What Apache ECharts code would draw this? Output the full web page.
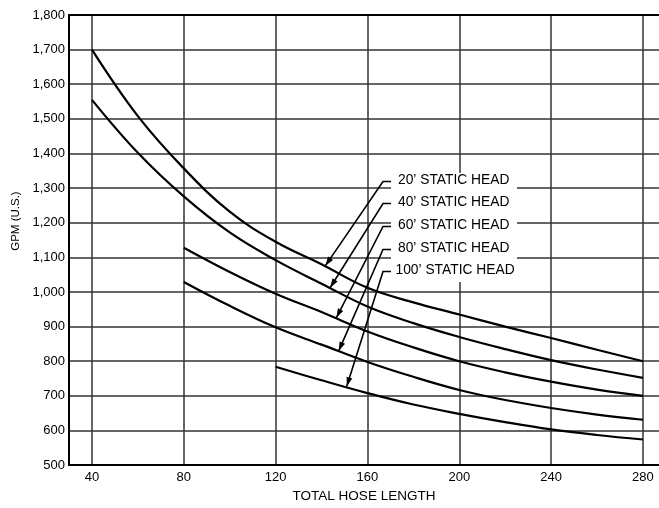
<!DOCTYPE html>
<html>
<head>
<meta charset="utf-8">
<script src="https://cdn.jsdelivr.net/npm/echarts@6/dist/echarts.min.js"></script>
<style>
  html, body { margin: 0; padding: 0; background: #fff; }
  #main { width: 659px; height: 508px; }
</style>
</head>
<body>
<div id="main"></div>
<script>
// hose length (ft) sampled every 20
const hoseLength = [40, 60, 80, 100, 120, 140, 160, 180, 200, 220, 240, 260, 280];
// GPM, null = curve not drawn there
const gpm20  = [1700, 1508, 1357, 1232, 1145, 1080, 1012, 970, 935, 900, 867, 833, 800];
const gpm40  = [1555, 1402, 1276, 1172, 1092, 1024, 958, 910, 870, 835, 803, 776, 752];
const gpm60  = [null, null, 1128, 1058, 995, 942, 886, 840, 800, 768, 741, 718, 700];
const gpm80  = [null, null, 1029, 960, 898, 848, 798, 755, 717, 688, 665, 646, 631];
const gpm100 = [null, null, null, null, 784, 745, 708, 675, 648, 624, 603, 587, 574];
const headNames = ['20’ STATIC HEAD', '40’ STATIC HEAD', '60’ STATIC HEAD', '80’ STATIC HEAD', '100’ STATIC HEAD'];
const xTicks = [40, 80, 120, 160, 200, 240, 280];
// where each arrow lands on its curve (data units)
const arrowTipX = [141.7, 143.8, 146.5, 147.5, 151];
const arrowTipY = [1076, 1013, 926, 830, 728];

const allGpm = [gpm20, gpm40, gpm60, gpm80, gpm100];
const FONT = '"Liberation Sans", Arial, Helvetica, sans-serif';

const chart = echarts.init(document.getElementById('main'));

const series = allGpm.map(function (vals, i) {
  const pts = [];
  vals.forEach(function (v, j) { if (v != null) pts.push([hoseLength[j], v]); });
  return {
    name: headNames[i],
    type: 'line',
    data: pts,
    smooth: 0.4,
    showSymbol: false,
    lineStyle: { color: '#000', width: 2.2 },
    z: 3
  };
});

chart.setOption({
  animation: false,
  grid: { left: 69, right: 0, top: 15, bottom: 40 },
  xAxis: [{
    type: 'value', min: 30, max: 287, position: 'bottom',
    name: 'TOTAL HOSE LENGTH', nameLocation: 'middle', nameGap: 21,
    nameTextStyle: { color: '#000', fontSize: 13.5, fontFamily: FONT },
    axisLine: { show: true, lineStyle: { color: '#000', width: 2.2 } },
    axisTick: { show: false, customValues: xTicks },
    axisLabel: { customValues: xTicks, color: '#000', fontSize: 13, fontFamily: FONT, margin: 6 },
    splitLine: { show: true, lineStyle: { color: '#333', width: 1.5 } }
  }, {
    type: 'value', min: 30, max: 287, position: 'top',
    axisLine: { show: true, lineStyle: { color: '#000', width: 2 } },
    axisTick: { show: false }, axisLabel: { show: false }, splitLine: { show: false }
  }],
  yAxis: {
    type: 'value', min: 500, max: 1800, interval: 100,
    name: 'GPM (U.S.)', nameLocation: 'middle', nameGap: 46, nameRotate: 90,
    nameTextStyle: { color: '#000', fontSize: 11.5, fontFamily: FONT, padding: [0, 0, 0, 38] },
    axisLine: { show: true, lineStyle: { color: '#000', width: 2 } },
    axisTick: { show: false },
    axisLabel: {
      color: '#000', fontSize: 13, fontFamily: FONT, margin: 4,
      formatter: function (v) { return v.toLocaleString('en-US'); }
    },
    splitLine: { show: true, lineStyle: { color: '#333', width: 1.5 } }
  },
  series: series
});

// callout labels with leader arrows
const labelY = [180, 202, 225, 248, 270];
const graphics = [{
  type: 'rect', shape: { x: 391, y: 173, width: 126, height: 109 },
  style: { fill: '#fff' }, z: 1
}];
headNames.forEach(function (txt, i) {
  const tip = chart.convertToPixel({ gridIndex: 0 }, [arrowTipX[i], arrowTipY[i]]);
  const sx = 383, sy = labelY[i] + 1.5;
  graphics.push({
    type: 'polyline', z: 5,
    shape: { points: [[391, sy], [sx, sy], tip] },
    style: { stroke: '#000', lineWidth: 1.6, fill: null }
  });
  const dx = tip[0] - sx, dy = tip[1] - sy, len = Math.sqrt(dx * dx + dy * dy);
  const ux = dx / len, uy = dy / len, L = 9, W = 3;
  const bx = tip[0] - ux * L, by = tip[1] - uy * L;
  graphics.push({
    type: 'polygon', z: 5,
    shape: { points: [tip, [bx - uy * W, by + ux * W], [bx + uy * W, by - ux * W]] },
    style: { fill: '#000' }
  });
  graphics.push({
    type: 'text', z: 6,
    x: i === 4 ? 395.5 : 398, y: labelY[i],
    style: { text: txt, fill: '#000', font: '13.8px ' + FONT, verticalAlign: 'middle', align: 'left' }
  });
});
chart.setOption({ graphic: graphics });
</script>
</body>
</html>
